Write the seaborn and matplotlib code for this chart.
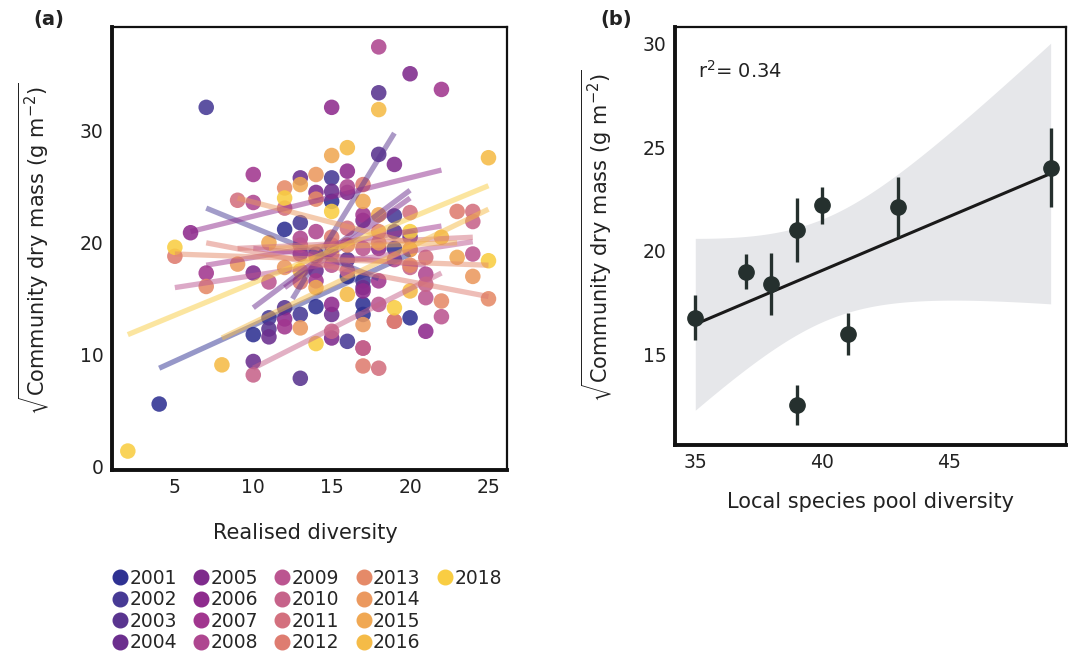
import numpy as np
import pandas as pd
import matplotlib.pyplot as plt
import seaborn as sns
from matplotlib.lines import Line2D

# ── data: panel (a) ─────────────────────────────────────
years = ['2001', '2002', '2003', '2004', '2005', '2006', '2007', '2008', '2009',
         '2010', '2011', '2012', '2013', '2014', '2015', '2016', '2018']
year_colors = ['#2e3192', '#473a95', '#59348f', '#6b2e8e', '#7e2a8c', '#8e2b8d',
               '#a1368f', '#ae4690', '#bb5590', '#c6638a', '#d3707e', '#de7c70',
               '#e58a68', '#eb995f', '#f0a853', '#f5bb47', '#f9cd42']

# realised diversity per year
scatter_x = [
    [4, 10, 12, 14, 15, 17, 17, 20, 16, 19],
    [7, 11, 13, 15, 16, 19, 13, 17],
    [11, 12, 13, 18, 18, 19, 14, 16],
    [10, 11, 13, 15, 15, 17, 14, 20],
    [10, 14, 20, 19, 15, 16, 17, 13],
    [6, 15, 21, 16, 15, 17, 18, 12],
    [7, 10, 22, 17, 18, 15, 14, 12],
    [18, 10, 16, 13, 19, 17, 21, 14],
    [13, 18, 21, 22, 15, 24, 11, 17],
    [10, 17, 15, 21, 19, 16, 20, 24],
    [9, 16, 18, 20, 24, 14, 12, 21],
    [5, 17, 17, 23, 20, 15, 13, 19],
    [7, 12, 25, 18, 22, 14, 16, 20],
    [9, 13, 14, 17, 24, 18, 15, 12],
    [13, 15, 17, 23, 14, 20, 18, 11],
    [8, 16, 18, 25, 20, 16, 13, 22],
    [2, 5, 12, 15, 19, 25, 14, 20],
]
# sqrt community dry mass per year
scatter_y = [
    [5.6, 11.8, 21.2, 14.3, 23.7, 14.5, 13.6, 13.3, 17.0, 19.5],
    [32.1, 13.3, 21.8, 25.8, 11.2, 22.4, 13.6, 16.6],
    [12.3, 14.2, 7.9, 33.4, 27.9, 21.0, 19.0, 18.5],
    [9.4, 11.6, 25.8, 24.6, 13.6, 16.0, 17.5, 20.5],
    [17.3, 24.5, 35.1, 27.0, 11.5, 24.5, 22.0, 19.0],
    [20.9, 32.1, 12.1, 26.4, 14.5, 15.7, 19.5, 13.2],
    [17.3, 26.1, 33.7, 22.5, 16.6, 19.8, 16.6, 12.5],
    [37.5, 23.6, 25.0, 20.4, 18.5, 10.6, 17.2, 21.0],
    [19.8, 14.5, 15.1, 13.4, 18.0, 19.0, 16.5, 19.5],
    [8.2, 10.6, 12.1, 16.3, 13.0, 17.5, 17.8, 21.9],
    [23.8, 21.3, 8.8, 22.7, 22.8, 18.8, 23.1, 18.7],
    [18.8, 25.2, 9.0, 22.8, 19.4, 20.5, 16.5, 13.0],
    [16.1, 24.9, 15.0, 21.0, 14.8, 23.9, 19.8, 18.0],
    [18.1, 12.4, 26.1, 12.7, 17.0, 20.0, 19.0, 17.8],
    [25.2, 27.8, 23.7, 18.7, 16.0, 19.4, 22.5, 20.0],
    [9.1, 28.5, 31.9, 27.6, 15.7, 15.4, 17.5, 20.5],
    [1.4, 19.6, 24.0, 22.8, 14.2, 18.4, 11.0, 21.0],
]
# per-year fitted lines (start / end)
fit_x0 = [4, 7, 12.5, 10, 12, 6, 7, 10, 5, 10, 9, 7, 5, 9, 11, 8, 2]
fit_x1 = [20, 18, 19, 20, 20, 22, 22, 21, 24, 22, 24, 25, 25, 20, 23, 25, 25]
fit_y0 = [8.8, 23.1, 15.0, 14.2, 16.0, 21.0, 18.0, 19.5, 16.0, 8.8, 19.5, 20.0, 19.0, 24.0, 19.5, 11.5, 11.8]
fit_y1 = [19.0, 16.8, 29.8, 24.7, 24.0, 26.5, 21.5, 18.0, 20.1, 17.3, 20.5, 15.2, 18.0, 20.0, 20.0, 23.0, 25.1]

# ── data: panel (b) ─────────────────────────────────────
pool_div = [35, 37, 38, 39, 39, 40, 41, 43, 49]
pool_mass = [16.8, 19.0, 18.4, 21.0, 12.6, 22.2, 16.0, 22.1, 24.0]
pool_err = [1.1, 0.85, 1.5, 1.55, 0.95, 0.9, 1.0, 1.45, 1.9]

# ── style ───────────────────────────────────────────────
sns.set_style('white')
plt.rcParams['font.family'] = ['DejaVu Sans']
plt.rcParams['lines.solid_capstyle'] = 'butt'
text_col = '#222222'

palette = dict(zip(years, year_colors))

pts = pd.DataFrame({
    'year': [y for y, xs in zip(years, scatter_x) for _ in xs],
    'diversity': [v for xs in scatter_x for v in xs],
    'mass': [v for ys in scatter_y for v in ys],
})
fits = pd.DataFrame({
    'year': years * 2,
    'x': fit_x0 + fit_x1,
    'y': fit_y0 + fit_y1,
})

fig = plt.figure(figsize=(10.68, 6.52), dpi=100)
ax1 = fig.add_axes([0.105, 0.279, 0.370, 0.680])
ax2 = fig.add_axes([0.632, 0.3175, 0.366, 0.641])

# ── panel (a) ───────────────────────────────────────────
sns.scatterplot(data=pts, x='diversity', y='mass', hue='year', palette=palette,
                s=125, alpha=0.88, linewidth=0, legend=False, ax=ax1, zorder=2)
sns.lineplot(data=fits, x='x', y='y', hue='year', palette=palette,
             estimator=None, lw=3.8, alpha=0.5, legend=False, ax=ax1, zorder=3)

ax1.set_xlim(1.0, 26.2)
ax1.set_ylim(-0.3, 39.3)
ax1.set_xticks([5, 10, 15, 20, 25])
ax1.set_yticks([0, 10, 20, 30])
ax1.set_xlabel('Realised diversity', fontsize=15, color=text_col)
ax1.set_ylabel(r'$\sqrt{\mathrm{Community\ dry\ mass\ (g\ m^{-2})}}$', fontsize=15, color=text_col)
ax1.xaxis.set_label_coords(0.49, -0.12)
ax1.yaxis.set_label_coords(-0.155, 0.5)

# legend below panel (a), 4 rows x 5 columns
handles = [Line2D([], [], marker='o', ls='', ms=10.5, color=c) for c in year_colors]
labels = list(years)
blank = Line2D([], [], ls='', marker=None)
handles = handles + [blank] * 3
labels = labels + [''] * 3
fig.legend(handles, labels, loc='upper left', bbox_to_anchor=(0.106, 0.128),
           ncol=5, frameon=False, fontsize=13.5, handlelength=0.7,
           handletextpad=0.15, columnspacing=0.95, labelspacing=0.14,
           borderaxespad=0, borderpad=0)

# ── panel (b) ───────────────────────────────────────────
px = np.array(pool_div, dtype=float)
py = np.array(pool_mass, dtype=float)
slope, icept = np.polyfit(px, py, 1)
resid = py - (icept + slope * px)
n = len(px)
s_err = np.sqrt(np.sum(resid ** 2) / (n - 2))
grid = np.linspace(px.min(), px.max(), 100)
se = s_err * np.sqrt(1 / n + (grid - px.mean()) ** 2 / np.sum((px - px.mean()) ** 2))
t_crit = 2.365  # t(0.975, df=7)
fit = icept + slope * grid
r2 = np.corrcoef(px, py)[0, 1] ** 2

ax2.fill_between(grid, fit - t_crit * se, fit + t_crit * se, color='#e6e7ea', lw=0, zorder=1)
sns.regplot(x=px, y=py, ci=None, scatter=False, ax=ax2,
            line_kws={'color': '#1a1a1a', 'lw': 2.2, 'zorder': 3})
ax2.errorbar(px, py, yerr=pool_err, fmt='o', color='#25302e', ms=11,
             elinewidth=2.4, capsize=0, zorder=4)
ax2.text(0.06, 0.895, r'r$^2$' + f'= {r2:.2f}', transform=ax2.transAxes,
         fontsize=14, color=text_col, va='center')

ax2.set_xlim(34.2, 49.6)
ax2.set_ylim(10.67, 30.77)
ax2.set_xticks([35, 40, 45])
ax2.set_yticks([15, 20, 25, 30])
ax2.set_xlabel('Local species pool diversity', fontsize=15, color=text_col)
ax2.set_ylabel(r'$\sqrt{\mathrm{Community\ dry\ mass\ (g\ m^{-2})}}$', fontsize=15, color=text_col)
ax2.xaxis.set_label_coords(0.5, -0.113)
ax2.yaxis.set_label_coords(-0.155, 0.5)

for ax in (ax1, ax2):
    for side in ('left', 'bottom'):
        ax.spines[side].set_linewidth(2.8)
    for side in ('top', 'right'):
        ax.spines[side].set_linewidth(1.6)
    for sp in ax.spines.values():
        sp.set_color('#111111')
    ax.tick_params(direction='in', length=11, width=3, color='#111111',
                   labelsize=13.5, labelcolor=text_col, pad=6)

fig.text(0.031, 0.985, '(a)', fontsize=14, fontweight='bold', va='top', color=text_col)
fig.text(0.562, 0.985, '(b)', fontsize=14, fontweight='bold', va='top', color=text_col)

plt.savefig('out.png', dpi=100)
